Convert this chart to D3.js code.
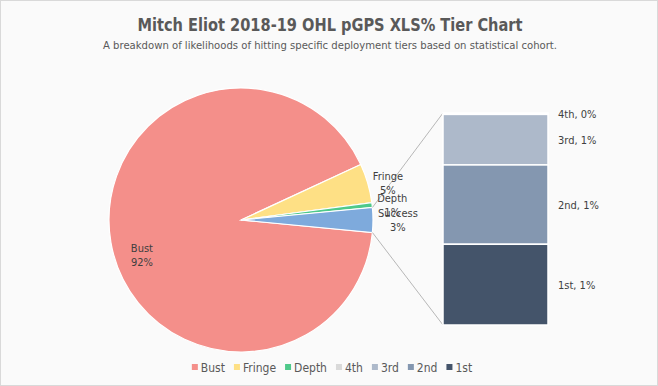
<!DOCTYPE html>
<html>
<head>
<meta charset="utf-8">
<script src="https://cdn.jsdelivr.net/npm/d3@7/dist/d3.min.js"></script>
<style>
    body { margin: 0; background: #fff; }
    text { font-family: "DejaVu Sans Condensed", "DejaVu Sans", sans-serif; }
</style>
</head>
<body>
<div class="tierChart"></div>
<script>
var width = 658, height = 386

// data
var pieCategories = ['Bust', 'Fringe', 'Depth', 'Success']
var pieValues = [91.6, 4.8, 0.6]          // Success = sum of the bar below
var barCategories = ['4th', '3rd', '2nd', '1st']
var barValues = [0.02, 0.72, 1.13, 1.15]
var legendLabels = ['Bust', 'Fringe', 'Depth', '4th', '3rd', '2nd', '1st']

var pieColors = ['#f48f8a', '#fee085', '#4fc98a', '#7eaadc']
var barColors = ['#d9d9d9', '#adb9ca', '#8497b0', '#44546a']

function tierChart() {
    var cx = 241, cy = 220, radius = 132
    var barLeft = 443, barWidth = 105, barTop = 113, barBottom = 325

    var successTotal = d3.sum(barValues)
    var pieData = pieCategories.map(function(c, i) {
        return { name: c, value: i < 3 ? pieValues[i] : successTotal, color: pieColors[i] }
    })
    var total = d3.sum(pieData, function(d) { return d.value })
    var successAngle = successTotal / total * 2 * Math.PI
    var start = Math.PI / 2 + successAngle / 2

    const svg = d3.select('.tierChart')
        .append('svg')
        .attr('width', width)
        .attr('height', height)

    svg.append('rect')
        .attr('x', 0.5).attr('y', 0.5)
        .attr('width', width - 1).attr('height', height - 1)
        .attr('fill', '#fafafa')
        .attr('stroke', '#d9d9d9')

    // title + subtitle
    svg.append('text')
        .attr('x', 330).attr('y', 31)
        .attr('text-anchor', 'middle')
        .attr('textLength', 385).attr('lengthAdjust', 'spacingAndGlyphs')
        .style('font-size', '18px').style('font-weight', 'bold')
        .style('fill', '#595959')
        .text('Mitch Eliot 2018-19 OHL pGPS XLS% Tier Chart')

    svg.append('text')
        .attr('x', 330).attr('y', 49)
        .attr('text-anchor', 'middle')
        .attr('textLength', 454).attr('lengthAdjust', 'spacingAndGlyphs')
        .style('font-size', '11px')
        .style('fill', '#595959')
        .text('A breakdown of likelihoods of hitting specific deployment tiers based on statistical cohort.')

    var pie = d3.pie()
        .sort(null)
        .value(function(d) { return d.value })
        .startAngle(start)
        .endAngle(start + 2 * Math.PI)
        (pieData)

    var arc = d3.arc().innerRadius(0).outerRadius(radius)

    const g = svg.append('g').attr('transform', 'translate(' + cx + ',' + cy + ')')

    g.selectAll('slice')
        .data(pie)
        .enter()
        .append('path')
        .attr('d', arc)
        .attr('fill', function(d) { return d.data.color })
        .attr('stroke', 'white')
        .style('stroke-width', '1.2px')

    // bar of pie
    var y = d3.scaleLinear().domain([0, successTotal]).range([barBottom, barTop])
    var stacked = barValues.map(function(v, i) {
        var below = d3.sum(barValues.slice(i + 1))
        return { name: barCategories[i], value: v, y0: below, y1: below + v, color: barColors[i] }
    })

    // connector lines from the Success slice to the bar
    var sp = pie[3]
    function edge(a) { return [cx + radius * Math.sin(a), cy - radius * Math.cos(a)] }
    var pTop = edge(sp.startAngle), pBot = edge(sp.endAngle)
    svg.append('line')
        .attr('x1', pTop[0]).attr('y1', pTop[1])
        .attr('x2', barLeft).attr('y2', y(successTotal))
        .attr('stroke', '#a6a6a6').attr('stroke-width', 0.8)
    svg.append('line')
        .attr('x1', pBot[0]).attr('y1', pBot[1])
        .attr('x2', barLeft).attr('y2', y(0))
        .attr('stroke', '#a6a6a6').attr('stroke-width', 0.8)

    svg.selectAll('barPart')
        .data(stacked)
        .enter()
        .append('rect')
        .attr('x', barLeft)
        .attr('y', function(d) { return y(d.y1) })
        .attr('width', barWidth)
        .attr('height', function(d) { return y(d.y0) - y(d.y1) })
        .attr('fill', function(d) { return d.color })
        .attr('stroke', 'white')
        .style('stroke-width', '1.5px')

    svg.selectAll('barLabel')
        .data(stacked)
        .enter()
        .append('text')
        .attr('x', barLeft + barWidth + 10)
        .attr('y', function(d) { return (y(d.y0) + y(d.y1)) / 2 + 4 })
        .style('font-size', '11px')
        .style('fill', '#404040')
        .text(function(d) { return d.name + ', ' + Math.round(d.value) + '%' })

    // pie labels: Bust inside, the rest outside on the right
    var bust = pie[0]
    var bc = d3.arc().innerRadius(radius * 0.8).outerRadius(radius * 0.8).centroid(bust)
    var bustLabel = svg.append('text')
        .attr('text-anchor', 'middle')
        .style('font-size', '11px').style('fill', '#404040')
    bustLabel.append('tspan').attr('x', cx + bc[0] + 5).attr('y', cy + bc[1] + 14).text('Bust')
    bustLabel.append('tspan').attr('x', cx + bc[0] + 5).attr('y', cy + bc[1] + 28).text(Math.round(bust.value / total * 100) + '%')

    pie.slice(1).forEach(function(d) {
        var mid = (d.startAngle + d.endAngle) / 2
        var p = edge(mid)
        var t = svg.append('text')
            .attr('text-anchor', 'middle')
            .style('font-size', '11px').style('fill', '#404040')
        var a = t.append('tspan').attr('y', p[1] - 3).text(d.data.name)
        var b = t.append('tspan').attr('y', p[1] + 11).text(Math.round(d.value / total * 100) + '%')
        var w = Math.max(a.node().getComputedTextLength(), b.node().getComputedTextLength())
        a.attr('x', p[0] + 5 + w / 2)
        b.attr('x', p[0] + 5 + w / 2)
    })

    // legend
    var legend = svg.append('g')
    var lx = 0
    legendLabels.forEach(function(name, i) {
        var color = i < 3 ? pieColors[i] : barColors[i - 3]
        legend.append('rect')
            .attr('x', lx).attr('y', 364)
            .attr('width', 6).attr('height', 6)
            .attr('fill', color)
        var t = legend.append('text')
            .attr('x', lx + 9).attr('y', 371.5)
            .style('font-size', '12px').style('fill', '#595959')
            .text(name)
        lx += 9 + t.node().getComputedTextLength() + 9
    })
    var lw = lx - 9
    legend.attr('transform', 'translate(' + (332 - lw / 2) + ',0)')
}
tierChart()
</script>
</body>
</html>
